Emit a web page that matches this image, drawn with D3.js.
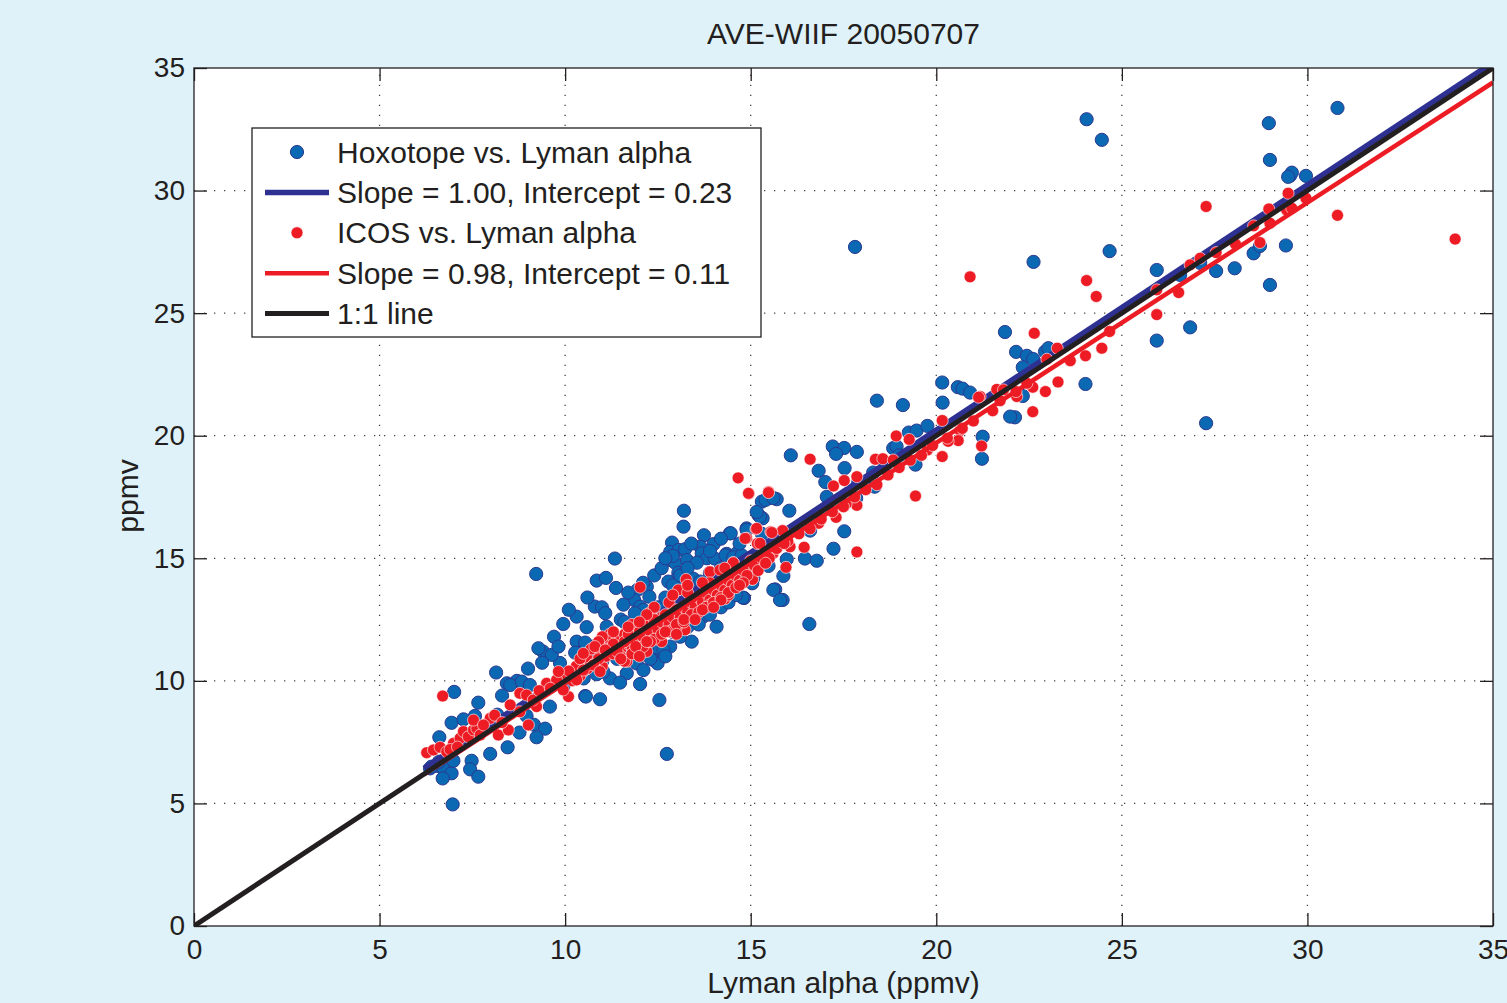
<!DOCTYPE html>
<html>
<head>
<meta charset="utf-8">
<script src="https://cdn.jsdelivr.net/npm/d3@7"></script>
<style>
  html, body { margin: 0; padding: 0; background: #dff2fa; }
  svg { display: block; }
  text { font-family: "Liberation Sans", Arial, Helvetica, sans-serif; fill: #231f20; }
</style>
</head>
<body>
<script>
// ---- data ----
var titleText = "AVE-WIIF 20050707"
var xLabel = "Lyman alpha (ppmv)"
var yLabel = "ppmv"
var tickValues = [0, 5, 10, 15, 20, 25, 30, 35]

// [Lyman alpha, Hoxotope]
var hoxotopePts = [
  [24.05,32.91],[24.46,32.07],[28.96,32.75],[30.81,33.37],[28.99,31.25],[29.53,30.6],[29.58,30.73],[29.48,30.56],[29.96,30.6],
  [24.67,27.53],[22.62,27.09],[25.94,26.76],[26.57,26.56],[27.11,27.05],[27.54,26.72],[28.04,26.83],[28.55,27.44],[28.72,27.74],
  [29.42,27.76],[28.99,26.15],[25.94,23.88],[26.84,24.42],[21.85,24.23],[22.15,23.42],[22.44,23.26],[22.61,23.13],[22.93,23.43],
  [23.02,23.57],[22.33,22.79],[24.02,22.11],[22.12,20.75],[27.27,20.51],[21.25,19.96],[22.33,21.62],[17.81,27.7],
  [20.16,22.17],[20.58,21.98],[20.71,21.92],[20.91,21.76],[20.17,21.35],[18.4,21.43],[19.1,21.25],[21.99,20.78],[21.23,19.06],
  [19.26,20.13],[19.47,20.21],[19.76,20.4],[18.84,19.49],[18.93,19.56],[19.44,18.82],[18.34,17.92],[17.21,19.56],[17.52,19.5],
  [17.3,19.26],[17.86,19.34],[16.08,19.2],[16.83,18.57],[17.53,18.68],[17.01,18.11],[17.05,17.51],[17.84,17.45],[15.3,17.31],
  [15.48,17.45],[15.7,17.41],[16.04,16.94],[15.21,16.76],[15.32,16.63],[14.44,16.02],[14.89,16.22],[16.6,16.13],[17.52,16.1],
  [17.23,15.39],[16.46,14.99],[16.78,14.9],[14.35,15.18],[14.62,15.2],[15.97,14.96],[15.48,14.69],[15.13,14.52],[15.88,14.28],
  [15.04,13.98],[15.66,13.73],[14.82,13.38],[15.86,13.3],[16.58,12.32],[17.9,18.1],[18.3,18.5],[18.6,18.7],[19.0,19.2],
  [13.2,16.94],[13.19,16.29],[11.34,14.99],[10.85,14.09],[11.37,13.79],[13.74,15.94],[14.46,16.02],[12.88,15.64],[12.83,15.26],
  [13.06,15.34],[13.23,15.37],[13.64,15.47],[14.0,15.58],[13.68,15.2],[13.82,15.0],[14.03,14.99],[12.83,14.93],[12.96,14.82],
  [13.28,14.93],[13.55,14.82],[14.89,16.16],[15.25,16.7],[15.4,17.38],[15.61,17.46],[15.16,16.89],[14.32,15.12],[14.53,15.04],
  [14.76,15.12],[13.05,14.41],[12.99,14.12],[12.78,14.05],[12.2,13.84],[11.95,13.71],[11.86,13.3],[12.02,13.03],[12.27,13.43],
  [12.11,12.89],[12.38,12.76],[12.16,12.62],[11.88,12.76],[11.57,13.11],[10.8,13.03],[10.99,13.0],[11.08,12.76],[10.31,12.62],
  [9.95,12.32],[10.58,12.19],[11.12,12.21],[11.19,11.8],[10.31,11.6],[10.54,11.46],[10.76,11.4],[10.27,11.15],[11.03,11.12],
  [13.45,14.17],[13.64,14.05],[13.82,13.84],[13.41,13.71],[13.45,13.3],[13.64,13.03],[13.72,12.62],[14.08,13.71],[14.26,13.43],
  [14.78,13.4],[15.61,13.71],[15.79,13.3],[13.41,11.6],[12.83,11.4],[12.47,11.19],[12.2,11.33],[12.02,11.4],[12.65,11.26],
  [12.38,10.85],[12.49,10.71],[11.66,10.99],[11.93,10.71],[11.66,10.31],[12.11,10.44],[11.21,10.1],[11.48,9.93],[12.02,9.87],
  [10.54,9.38],[10.94,9.25],[12.54,9.22],[9.95,9.76],[9.86,10.73],[11.03,10.37],[10.85,10.27],[14.08,12.21],[15.07,14.19],
  [14.89,14.79],[9.22,14.36],[12.74,7.02],
  [12.5,13.0],[12.7,13.4],[12.9,13.9],[13.1,14.3],[13.3,14.6],[12.4,14.3],[12.6,14.6],[12.1,14.0],[11.7,13.6],[11.5,12.5],
  [11.8,12.2],[12.9,12.0],[13.1,11.8],[13.3,12.2],[13.6,12.3],[13.9,12.7],[14.2,13.0],[14.4,13.2],[14.6,13.5],[12.3,10.9],
  [12.7,11.0],[11.4,10.9],[11.0,10.8],[10.5,10.1],[10.2,10.3],[13.0,13.2],[13.9,14.4],[14.2,14.6],[14.5,14.6],[11.6,12.4],
  [12.9,15.1],[12.7,15.0],[13.4,15.6],[13.9,15.3],[14.2,15.8],[14.7,15.6],[15.3,16.0],[11.1,14.2],[10.6,13.4],[10.1,12.9],
  [9.7,11.8],[9.4,11.2],[9.0,10.5],[8.7,10.0],[8.3,9.4],
  [8.14,10.34],[7.01,9.55],[9.28,11.33],[9.64,11.06],[9.82,11.4],[9.38,10.74],[10.54,11.56],[8.43,9.9],[8.52,9.83],[8.83,9.97],
  [9.05,9.83],[7.66,9.11],[6.94,8.29],[7.26,8.43],[7.57,8.57],[6.61,7.7],[8.17,8.62],[8.96,8.57],[9.16,8.21],[9.46,8.05],
  [9.23,7.7],[8.77,7.89],[8.45,7.29],[7.98,7.02],[9.59,8.95],[10.56,9.36],[6.36,6.43],[6.54,6.53],[6.72,6.43],[6.94,6.23],
  [6.7,6.02],[6.99,6.74],[7.48,6.74],[7.44,6.39],[7.66,6.09],[6.97,4.96],[6.4,6.5],[6.6,6.7]
]

// [Lyman alpha, ICOS]
var icosPts = [
  [27.27,29.35],[30.81,28.99],[33.98,28.02],[29.48,29.89],[29.96,29.69],[28.96,29.25],[29.44,29.21],[29.58,29.28],[28.99,28.67],
  [28.55,28.56],[28.72,27.88],[28.06,27.82],[27.54,27.47],[26.84,26.97],[27.11,27.24],[25.94,25.95],[26.53,25.84],[25.94,24.94],
  [24.05,26.33],[24.31,25.68],[24.67,24.25],[24.46,23.57],[24.02,23.26],[23.61,23.06],[23.26,23.57],[22.98,23.12],[22.64,24.18],
  [23.28,22.19],[22.94,21.8],[22.6,21.98],[22.44,22.14],[22.17,21.6],[22.15,21.8],[21.63,21.89],[21.81,21.87],[21.72,21.43],
  [21.52,21.02],[22.6,20.98],[21.22,19.58],[21.18,21.6],[20.91,26.48],
  [14.66,18.28],[14.95,17.63],[15.48,17.71],[16.6,19.04],[17.52,18.17],[17.86,18.33],[17.23,17.95],[17.86,17.16],[17.57,17.22],
  [17.3,16.67],[16.83,16.43],[17.86,15.26],[19.44,17.54],[18.36,19.04],[18.56,19.06],[18.92,19.99],[19.27,19.85],[18.84,19.01],
  [20.16,20.62],[20.64,20.21],[20.59,19.8],[20.32,19.77],[20.16,19.15],[19.76,19.42],[21.14,21.57],[15.14,16.19],[14.89,15.82],
  [15.54,16.08],[15.86,16.13],[15.18,15.6],[16.06,15.47],[16.44,15.45],[15.95,14.63],[15.3,14.79],[14.53,14.82],[15.04,14.14],
  [14.31,13.35],[15.6,15.2],[16.0,15.7],[16.3,16.0],[16.6,16.2],[16.9,16.6],[17.2,16.9],[17.5,17.1],[17.8,17.5],[18.1,17.8],
  [18.4,18.0],[18.7,18.4],[19.0,18.7],[19.3,19.0],[19.6,19.2],[19.9,19.6],[20.3,19.9],[20.7,20.3],[21.0,20.6],
  [14.94,17.65],[15.48,17.68],[12.02,13.82],[13.26,14.14],[13.05,13.71],[13.9,14.45],[14.17,14.52],[14.53,14.82],[14.85,15.81],
  [15.16,16.22],[15.25,15.61],[15.57,16.05],[15.05,14.14],[13.23,12.08],[10.09,9.36],[11.66,10.79],
  [10.0,10.2],[10.2,10.0],[10.3,10.6],[10.5,10.4],[10.6,10.9],[10.8,10.7],[10.9,11.2],[11.0,10.6],[11.1,11.0],[11.2,11.5],
  [11.3,11.1],[11.4,11.7],[11.5,11.3],[11.6,11.9],[11.7,11.5],[11.8,11.4],[11.9,12.0],[12.0,11.7],[12.1,12.2],[12.2,11.9],
  [12.3,12.4],[12.4,12.0],[12.5,12.3],[12.6,12.6],[12.7,12.2],[12.8,12.5],[12.9,12.8],[13.0,12.6],[13.1,12.9],[13.2,12.7],
  [13.3,13.1],[13.4,12.9],[13.5,13.3],[13.6,13.0],[13.7,13.5],[13.8,13.2],[13.9,13.6],[14.0,13.4],[14.1,13.8],[14.2,13.6],
  [14.3,14.0],[14.4,13.8],[14.5,14.2],[14.6,14.0],[14.7,14.5],[14.8,14.3],[14.9,14.6],[15.0,14.9],[11.5,11.0],[12.0,11.3],
  [12.5,11.8],[13.0,12.2],[13.5,12.7],[11.2,11.9],[11.8,12.3],[12.3,12.8],[12.8,13.2],[13.3,13.6],[10.7,11.3],[11.0,11.8],
  [12.6,11.6],[13.1,12.4],[14.1,13.3],[13.9,14.0],[12.9,13.5],[12.4,13.0],[11.6,10.8],[12.2,11.2],
  [10.1,10.4],[10.4,10.2],[10.6,10.5],[10.9,10.9],[11.1,11.3],[11.3,11.5],[11.4,11.2],[11.6,11.6],[11.7,11.9],[11.9,11.6],
  [12.0,12.0],[12.1,11.8],[12.2,12.3],[12.3,12.0],[12.4,12.5],[12.5,12.1],[12.6,12.4],[12.7,12.7],[12.8,12.3],[12.9,12.6],
  [13.0,12.9],[13.1,12.6],[13.2,13.0],[13.3,12.8],[13.4,13.2],[13.5,13.0],[13.6,13.4],[13.7,13.2],[13.8,13.6],[13.9,13.3],
  [14.0,13.7],[14.1,13.5],[14.2,13.9],[14.3,13.7],[14.4,14.1],[14.5,13.9],[14.6,14.3],[14.7,14.1],[14.8,14.5],[14.9,14.3],
  [15.1,14.7],[15.3,15.0],[15.5,15.0],[15.7,15.4],[15.9,15.6],[12.4,11.7],[12.9,12.1],[13.4,12.6],[13.9,13.1],[14.4,13.5],
  [11.9,11.2],[13.3,13.9],[13.7,14.0],[14.3,14.6],[12.2,12.7],[11.7,12.2],[10.9,11.6],[10.4,10.9],[11.3,12.0],[12.0,12.4],
  [11.5,10.9],[11.8,11.1],[12.1,11.4],[12.3,11.6],[12.6,11.9],[12.8,12.0],[13.0,12.3],[13.2,12.4],[13.4,12.7],[13.6,12.8],
  [13.8,13.0],[14.0,13.2],[14.2,13.4],[14.4,13.6],[14.6,13.8],[14.8,14.0],[12.2,11.6],[12.7,12.0],[13.2,12.5],[13.7,12.9],
  [14.2,13.3],[14.7,13.9],[11.9,11.4],[13.5,12.5],[12.0,11.0],[13.0,11.9],[14.0,13.0],[15.2,14.5],[15.4,14.8],
  [6.7,9.38],[6.27,7.07],[6.45,7.18],[6.63,7.29],[6.81,7.11],[6.99,7.45],[7.17,7.66],[7.26,7.93],[7.39,7.72],[7.53,8.0],
  [7.62,8.06],[7.71,7.79],[7.53,8.4],[7.98,8.47],[8.2,7.79],[8.47,8.0],[8.52,9.02],[8.78,8.74],[9.01,8.2],[9.23,8.95],
  [8.78,9.49],[8.96,9.42],[9.14,9.22],[9.5,9.9],[9.77,10.04],[9.82,10.38],[9.95,9.63],[10.31,10.04],[10.49,10.44],[10.76,10.65],
  [10.94,10.38],[10.49,11.12],[10.8,11.4],[11.08,11.26],[6.9,7.2],[7.1,7.3],[7.8,8.2],[8.1,8.6],[8.3,8.3],[9.3,9.6],[9.6,9.7]
]

// linear fits: [Hoxotope, ICOS]
var fitSlopes = [1.00, 0.98]
var fitIntercepts = [0.23, 0.11]
var fitRange = [6.2, 35]
var oneToOne = [0, 35]

var legendLabels = [
  "Hoxotope vs. Lyman alpha",
  "Slope = 1.00, Intercept = 0.23",
  "ICOS vs. Lyman alpha",
  "Slope = 0.98, Intercept = 0.11",
  "1:1 line"
]

// ---- drawing ----
var W = 1507, H = 1003
var plot = { left: 194, right: 1493, top: 68, bottom: 926 }
var blue = "#0b69b4", blueEdge = "#2b3990", blueLine = "#2e3192"
var red = "#ed1c24", black = "#231f20"
var blueR = 6.6, redR = 6

var d = d3.select("body").append("svg").attr("width", W).attr("height", H)

var x = d3.scaleLinear().domain([0, 35]).range([plot.left, plot.right])
var y = d3.scaleLinear().domain([0, 35]).range([plot.bottom, plot.top])

d.append("rect")
  .attr("x", plot.left).attr("y", plot.top)
  .attr("width", plot.right - plot.left).attr("height", plot.bottom - plot.top)
  .attr("fill", "white")

d.append("clipPath").attr("id", "clip").append("rect")
  .attr("x", plot.left).attr("y", plot.top)
  .attr("width", plot.right - plot.left).attr("height", plot.bottom - plot.top)

// dotted grid
var grid = d.append("g").attr("stroke", "#444").attr("stroke-width", 1.3)
  .attr("stroke-dasharray", "1.3,8.7")
grid.selectAll(".gx").data(tickValues.slice(1, -1)).enter().append("line")
  .attr("x1", function (v) { return x(v) }).attr("x2", function (v) { return x(v) })
  .attr("y1", plot.bottom).attr("y2", plot.top)
grid.selectAll(".gy").data(tickValues.slice(1, -1)).enter().append("line")
  .attr("y1", function (v) { return y(v) }).attr("y2", function (v) { return y(v) })
  .attr("x1", plot.left).attr("x2", plot.right)

// axes, ticks pointing inward
function styleAxis(g, labels) {
  g.select(".domain").remove()
  g.selectAll(".tick line").attr("stroke", black).attr("stroke-width", 1.3)
  g.selectAll("text").style("font-size", "28px").attr("fill", black)
  if (!labels) g.selectAll("text").remove()
}
d.append("g").attr("transform", "translate(0," + plot.bottom + ")")
  .call(d3.axisBottom(x).tickValues(tickValues).tickSize(-13).tickPadding(13).tickFormat(d3.format("d")))
  .call(styleAxis, true)
d.append("g").attr("transform", "translate(0," + plot.top + ")")
  .call(d3.axisTop(x).tickValues(tickValues).tickSize(-13))
  .call(styleAxis, false)
d.append("g").attr("transform", "translate(" + plot.left + ",0)")
  .call(d3.axisLeft(y).tickValues(tickValues).tickSize(-13).tickPadding(9).tickFormat(d3.format("d")))
  .call(styleAxis, true)
d.append("g").attr("transform", "translate(" + plot.right + ",0)")
  .call(d3.axisRight(y).tickValues(tickValues).tickSize(-13))
  .call(styleAxis, false)

// data
var area = d.append("g").attr("clip-path", "url(#clip)")
var line = d3.line().x(function (p) { return x(p[0]) }).y(function (p) { return y(p[1]) })

function fitLine(i) {
  return fitRange.map(function (v) { return [v, fitSlopes[i] * v + fitIntercepts[i]] })
}

area.append("g").selectAll("circle").data(hoxotopePts).enter().append("circle")
  .attr("cx", function (p) { return x(p[0]) }).attr("cy", function (p) { return y(p[1]) })
  .attr("r", blueR).attr("fill", blue).attr("stroke", blueEdge).attr("stroke-width", 1)

area.append("path").attr("d", line(fitLine(0)))
  .attr("stroke", blueLine).attr("stroke-width", 5.5).attr("fill", "none")

area.append("g").selectAll("circle").data(icosPts).enter().append("circle")
  .attr("cx", function (p) { return x(p[0]) }).attr("cy", function (p) { return y(p[1]) })
  .attr("r", redR).attr("fill", red).attr("stroke", "white").attr("stroke-width", 0.6)

area.append("path").attr("d", line(fitLine(1)))
  .attr("stroke", red).attr("stroke-width", 4.5).attr("fill", "none")

area.append("path").attr("d", line(oneToOne.map(function (v) { return [v, v] })))
  .attr("stroke", black).attr("stroke-width", 5).attr("fill", "none")

// frame
d.append("rect")
  .attr("x", plot.left).attr("y", plot.top)
  .attr("width", plot.right - plot.left).attr("height", plot.bottom - plot.top)
  .attr("fill", "none").attr("stroke", black).attr("stroke-width", 1.3)

// labels
d.append("text").attr("x", (plot.left + plot.right) / 2).attr("y", 44)
  .attr("text-anchor", "middle").style("font-size", "30px").text(titleText)
d.append("text").attr("x", (plot.left + plot.right) / 2).attr("y", 993)
  .attr("text-anchor", "middle").style("font-size", "30px").text(xLabel)
d.append("text").attr("transform", "translate(138,496) rotate(-90)")
  .attr("text-anchor", "middle").style("font-size", "30px").text(yLabel)

// legend
var leg = d.append("g").attr("transform", "translate(252,128)")
leg.append("rect").attr("width", 509).attr("height", 209)
  .attr("fill", "white").attr("stroke", black).attr("stroke-width", 1.3)

var rows = leg.selectAll(".row").data(legendLabels).enter().append("g")
  .attr("transform", function (t, i) { return "translate(0," + (24 + i * 40.4) + ")" })
rows.append("text").attr("x", 85).attr("y", 10.5).style("font-size", "30px")
  .text(function (t) { return t })

rows.filter(function (t, i) { return i === 0 }).append("circle")
  .attr("cx", 45).attr("r", blueR).attr("fill", blue).attr("stroke", blueEdge)
rows.filter(function (t, i) { return i === 2 }).append("circle")
  .attr("cx", 45).attr("r", redR).attr("fill", red).attr("stroke", "white").attr("stroke-width", 0.6)
var lineStyles = { 1: [blueLine, 5.5], 3: [red, 4.5], 4: [black, 5] }
rows.filter(function (t, i) { return lineStyles[i] }).append("line")
  .attr("x1", 13).attr("x2", 77)
  .each(function (t) {
    var s = lineStyles[legendLabels.indexOf(t)]
    d3.select(this).attr("stroke", s[0]).attr("stroke-width", s[1])
  })
</script>
</body>
</html>
